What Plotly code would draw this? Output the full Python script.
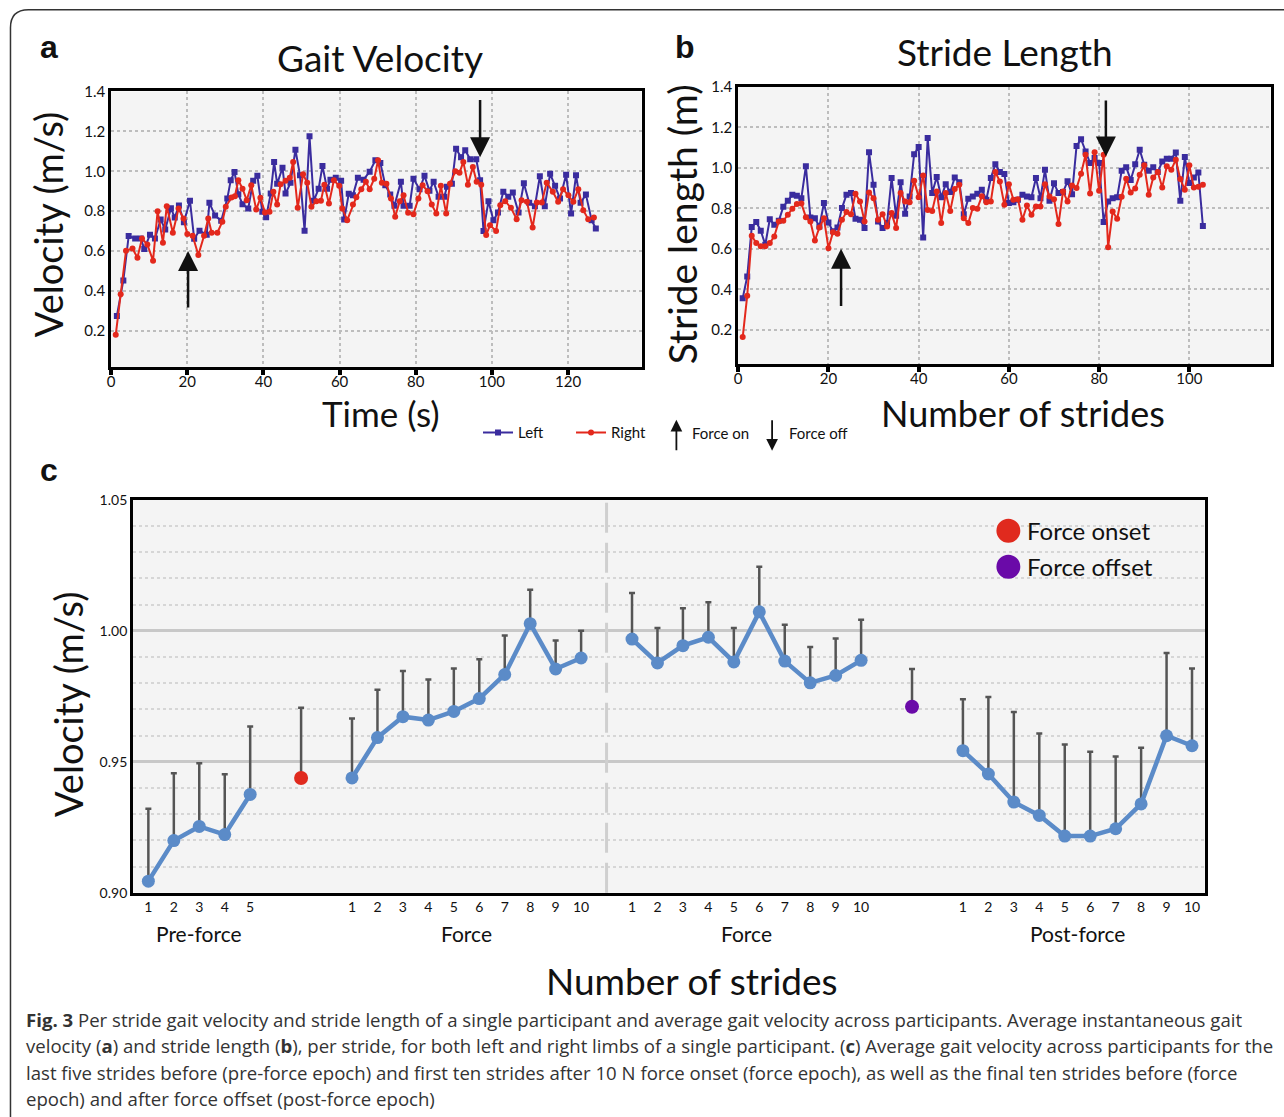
import plotly.graph_objects as go

# ---------------- DATA ----------------
# Panel a: gait velocity (m/s) vs time (s), single participant
gv_left_t = [1.5, 3.2, 4.6, 6.3, 7.8, 8.7, 10.2, 11.5, 13.0, 14.2,
             15.7, 16.7, 17.8, 19.1, 20.7, 21.8, 23.2, 25.1, 25.8, 27.3,
             28.9, 30.5, 31.4, 32.4, 33.4, 34.5, 36.0, 37.3, 38.4, 39.7,
             40.7, 41.9, 42.8, 43.6, 45.0, 45.8, 47.1, 48.4, 49.6, 50.8,
             52.1, 53.2, 54.5, 55.5, 56.7, 57.6, 59.0, 60.4, 61.2, 62.4,
             63.5, 64.8, 66.3, 67.9,
             69.4, 70.7, 72.0, 73.3, 74.4, 76.1, 76.8, 78.4, 79.4, 81.0,
             82.3, 83.6, 84.7, 86.0, 87.5, 88.2, 89.5, 90.6, 91.9, 93.0,
             94.3, 95.9, 96.9, 97.8, 99.1, 100.4, 101.6, 103.0, 104.3, 105.5,
             107.0, 108.4, 109.8, 111.3, 112.6, 113.9, 115.3, 116.6, 117.9, 119.5,
             120.8, 122.1, 123.3, 124.7, 126.2, 127.3]
gv_left_v = [0.275, 0.453, 0.675, 0.663, 0.663, 0.610, 0.682, 0.663, 0.758, 0.708,
             0.815, 0.768, 0.828, 0.745, 0.852, 0.662, 0.702, 0.682, 0.842, 0.778,
             0.752, 0.863, 0.955, 0.997, 0.885, 0.835, 0.813, 0.952, 0.977, 0.797,
             0.770, 0.888, 1.047, 0.937, 1.018, 0.888, 0.942, 1.108, 0.980, 0.702,
             1.175, 0.852, 0.913, 1.027, 0.913, 0.958, 0.967, 0.952, 0.758, 0.887,
             0.880, 0.968, 0.958, 0.998,
             1.055, 1.042, 0.930, 0.883, 0.827, 0.947, 0.827, 0.827, 0.963, 0.910,
             0.977, 0.903, 0.947, 0.872, 0.872, 0.922, 0.938, 1.113, 1.070, 1.105,
             1.060, 1.060, 0.955, 0.700, 0.850, 0.755, 0.793, 0.897, 0.872, 0.893,
             0.793, 0.940, 0.842, 0.825, 0.975, 0.825, 0.988, 0.927, 0.863, 0.983,
             0.788, 0.980, 0.842, 0.883, 0.755, 0.713]
gv_right_t = [1.2, 2.5, 3.9, 5.6, 6.9, 8.1, 9.5, 11.0, 12.2, 13.6,
              14.6, 16.2, 17.7, 19.0, 20.0, 21.4, 22.9, 24.4, 25.5, 26.4,
              27.9, 29.2, 30.1, 31.6, 32.5, 33.4, 34.5, 35.6, 36.8, 38.1,
              39.2, 40.4, 41.6, 42.6, 43.6, 44.5, 45.8, 46.9, 47.8, 49.0,
              50.4, 51.5, 52.6, 53.9, 55.1, 56.0, 57.2, 58.5, 59.9, 60.7,
              62.0, 63.5, 64.4, 65.7, 66.9, 67.9, 69.1, 70.1,
              71.1, 72.3, 73.5, 74.6, 75.8, 76.8, 78.0, 79.4, 80.7, 81.8,
              83.1, 84.2, 85.4, 86.6, 88.0, 89.0, 90.4, 91.5, 92.5, 93.7,
              95.0, 96.0, 97.2, 98.5, 99.5, 101.1, 102.2, 103.5, 105.0, 106.5,
              107.8, 109.2, 110.7, 111.8, 113.1, 114.4, 116.0, 117.4, 118.7, 120.1,
              121.4, 122.7, 124.0, 125.3, 126.8]
gv_right_v = [0.180, 0.383, 0.602, 0.613, 0.567, 0.663, 0.633, 0.552, 0.800, 0.642,
              0.825, 0.692, 0.813, 0.763, 0.685, 0.677, 0.580, 0.677, 0.763, 0.692,
              0.692, 0.747, 0.822, 0.868, 0.875, 0.955, 0.913, 0.855, 0.930, 0.808,
              0.867, 0.793, 0.797, 0.897, 0.833, 0.935, 0.952, 0.968, 1.047, 0.817,
              0.985, 0.942, 0.822, 0.850, 0.852, 0.933, 0.838, 0.955, 0.927, 0.813,
              0.755, 0.833, 0.870, 0.910, 0.947, 0.910, 0.963, 1.055,
              0.942, 0.938, 0.863, 0.772, 0.850, 0.880, 0.792, 0.785, 0.863, 0.930,
              0.900, 0.833, 0.788, 0.927, 0.788, 0.938, 1.000, 0.993, 1.047, 0.933,
              1.022, 0.947, 0.933, 0.680, 0.730, 0.700, 0.830, 0.850, 0.817, 0.760,
              0.855, 0.847, 0.718, 0.843, 0.843, 0.943, 0.897, 0.847, 0.910, 0.880,
              0.847, 0.910, 0.805, 0.760, 0.768]

# Panel b: stride length (m) per stride number
strides_b = list(range(1, 104))
sl_left = [0.356, 0.463, 0.707, 0.732, 0.689, 0.620, 0.746, 0.718, 0.738, 0.808,
           0.837, 0.867, 0.862, 0.850, 1.008, 0.755, 0.751, 0.710, 0.826, 0.730,
           0.686, 0.705, 0.801, 0.867, 0.875, 0.748, 0.743, 0.702, 1.077, 0.916,
           0.735, 0.702, 0.727, 0.949, 0.763, 0.929, 0.773, 0.858, 1.067, 1.102,
           0.656, 1.147, 0.875, 0.954, 0.854, 0.919, 0.880, 0.952, 0.929, 0.771,
           0.847, 0.858, 0.872, 0.892, 0.842, 0.949, 1.018, 0.979, 0.969, 0.826,
           0.830, 0.842, 0.867, 0.858, 0.854, 0.949, 0.850, 0.990, 0.837, 0.923,
           0.875, 0.880, 0.933, 0.869, 1.108, 1.141, 1.080, 1.023, 1.048, 1.023,
           0.732, 0.834, 0.850, 0.854, 0.985, 1.003, 0.940, 1.018, 1.089, 1.015,
           0.985, 1.002, 0.979, 1.031, 1.044, 1.044, 1.075, 0.837, 1.053, 0.925,
           0.952, 0.977, 0.713]
sl_right = [0.164, 0.368, 0.664, 0.628, 0.612, 0.612, 0.628, 0.661, 0.735, 0.738,
            0.768, 0.798, 0.821, 0.824, 0.756, 0.735, 0.641, 0.705, 0.751, 0.603,
            0.681, 0.674, 0.743, 0.781, 0.771, 0.872, 0.834, 0.735, 0.878, 0.850,
            0.743, 0.771, 0.710, 0.776, 0.702, 0.875, 0.834, 0.830, 0.936, 0.855,
            0.962, 0.792, 0.787, 0.883, 0.727, 0.875, 0.787, 0.895, 0.916, 0.751,
            0.727, 0.801, 0.798, 0.859, 0.830, 0.834, 0.979, 0.932, 0.817, 0.919,
            0.842, 0.845, 0.743, 0.814, 0.768, 0.809, 0.809, 0.919, 0.858, 0.845,
            0.722, 0.883, 0.834, 0.913, 0.900, 0.970, 1.064, 0.873, 1.077, 0.886,
            1.064, 0.608, 0.784, 0.748, 0.857, 0.946, 0.878, 0.898, 0.965, 1.012,
            0.867, 0.952, 0.979, 0.903, 1.007, 0.990, 1.040, 0.944, 0.892, 1.012,
            0.903, 0.906, 0.916]

# Force on / off events
force_on_a, force_off_a = 20.2, 96.9      # time (s)
force_on_b, force_off_b = 22.8, 81.5      # stride number

# Panel c: average gait velocity across participants (mean, upper error)
pre_labels = ["1", "2", "3", "4", "5"]
pre_mean = [0.9044, 0.9199, 0.9253, 0.9222, 0.9375]
pre_err = [0.0276, 0.0257, 0.0241, 0.0230, 0.0259]
onset_mean, onset_err = 0.9438, 0.0268
force_labels = ["1", "2", "3", "4", "5", "6", "7", "8", "9", "10"]
force_first_mean = [0.9438, 0.9592, 0.9672, 0.9659, 0.9692, 0.9741, 0.9833, 1.0027, 0.9854, 0.9896]
force_first_err = [0.0227, 0.0183, 0.0174, 0.0155, 0.0164, 0.0150, 0.0149, 0.0129, 0.0109, 0.0104]
force_last_mean = [0.9968, 0.9877, 0.9943, 0.9975, 0.9881, 1.0072, 0.9884, 0.9801, 0.9829, 0.9887]
force_last_err = [0.0176, 0.0133, 0.0143, 0.0134, 0.0129, 0.0172, 0.0139, 0.0137, 0.0141, 0.0155]
offset_mean, offset_err = 0.9710, 0.0144
post_labels = ["1", "2", "3", "4", "5", "6", "7", "8", "9", "10"]
post_mean = [0.9542, 0.9453, 0.9346, 0.9295, 0.9216, 0.9216, 0.9244, 0.9339, 0.9599, 0.9561]
post_err = [0.0196, 0.0294, 0.0344, 0.0313, 0.0350, 0.0322, 0.0276, 0.0214, 0.0316, 0.0295]
epoch_names = ["Pre-force", "Force", "Force", "Post-force"]

caption_lines = [
    "<b>Fig. 3</b> Per stride gait velocity and stride length of a single participant and average gait velocity across participants. Average instantaneous gait",
    "velocity (<b>a</b>) and stride length (<b>b</b>), per stride, for both left and right limbs of a single participant. (<b>c</b>) Average gait velocity across participants for the",
    "last five strides before (pre-force epoch) and first ten strides after 10 N force onset (force epoch), as well as the final ten strides before (force",
    "epoch) and after force offset (post-force epoch)",
]

# ---------------- LAYOUT HELPERS ----------------
W, H = 1284, 1117
def px(x):
    return (x - 2.5) / W
def py(y):
    return 1 - ((y - 10.2) / 0.984) / H

FONT = "Lato"
BLUE = "#3a2c9e"
RED = "#e3281c"
CBLUE = "#5b8bc8"
EGRAY = "#555555"
ONSET = "#e02a1e"
OFFSET = "#6a0aa8"

# x positions for panel c (grouped categories with gaps)
pre_x = [1, 2, 3, 4, 5]
onset_x = 7
force_first_x = list(range(9, 19))
sep_x = 19
force_last_x = list(range(20, 30))
offset_x = 31
post_x = list(range(33, 43))

fig = go.Figure()

# Panel a
fig.add_trace(go.Scatter(x=gv_left_t, y=gv_left_v, mode="lines+markers", name="Left",
                         line=dict(color=BLUE, width=2), marker=dict(symbol="square", size=6, color=BLUE),
                         xaxis="x", yaxis="y", legend="legend"))
fig.add_trace(go.Scatter(x=gv_right_t, y=gv_right_v, mode="lines+markers", name="Right",
                         line=dict(color=RED, width=2), marker=dict(symbol="circle", size=6, color=RED),
                         xaxis="x", yaxis="y", legend="legend"))
# Panel b
fig.add_trace(go.Scatter(x=strides_b, y=sl_left, mode="lines+markers", name="Left", showlegend=False,
                         line=dict(color=BLUE, width=2), marker=dict(symbol="square", size=6, color=BLUE),
                         xaxis="x2", yaxis="y2"))
fig.add_trace(go.Scatter(x=strides_b, y=sl_right, mode="lines+markers", name="Right", showlegend=False,
                         line=dict(color=RED, width=2), marker=dict(symbol="circle", size=6, color=RED),
                         xaxis="x2", yaxis="y2"))

# Panel c
def epoch_trace(xs, means, errs):
    return go.Scatter(x=xs, y=means, mode="lines+markers", showlegend=False,
                      line=dict(color=CBLUE, width=4.5), marker=dict(size=13, color=CBLUE),
                      error_y=dict(type="data", array=errs, arrayminus=[0] * len(errs), symmetric=False,
                                   color=EGRAY, thickness=2.5, width=3),
                      xaxis="x3", yaxis="y3")

fig.add_trace(epoch_trace(pre_x, pre_mean, pre_err))
fig.add_trace(epoch_trace(force_first_x, force_first_mean, force_first_err))
fig.add_trace(epoch_trace(force_last_x, force_last_mean, force_last_err))
fig.add_trace(epoch_trace(post_x, post_mean, post_err))
fig.add_trace(go.Scatter(x=[onset_x], y=[onset_mean], mode="markers", name="Force onset", showlegend=False,
                         marker=dict(size=14, color=ONSET),
                         error_y=dict(type="data", array=[onset_err], arrayminus=[0], symmetric=False,
                                      color=EGRAY, thickness=2.5, width=3),
                         xaxis="x3", yaxis="y3"))
fig.add_trace(go.Scatter(x=[offset_x], y=[offset_mean], mode="markers", name="Force offset", showlegend=False,
                         marker=dict(size=14, color=OFFSET),
                         error_y=dict(type="data", array=[offset_err], arrayminus=[0], symmetric=False,
                                      color=EGRAY, thickness=2.5, width=3),
                         xaxis="x3", yaxis="y3"))

frame = dict(showline=True, linecolor="black", linewidth=3, mirror=True, zeroline=False)
gridab = dict(showgrid=True, gridcolor="#bdbdbd", griddash="dot", gridwidth=2)
tickfont = dict(family=FONT, size=15, color="#111")

fig.update_layout(
    width=W, height=H, margin=dict(l=0, r=0, t=0, b=0),
    paper_bgcolor="white", plot_bgcolor="#f4f4f4",
    font=dict(family=FONT, color="#111"),
    xaxis=dict(domain=[px(110), px(642)], range=[0, 139.3], dtick=20, tick0=0, anchor="y",
               ticks="outside", ticklen=5, tickwidth=4, tickcolor="black", tickfont=tickfont,
               ticklabelstandoff=-6, **frame, **gridab),
    yaxis=dict(domain=[py(367), py(91.7)], range=[0.02, 1.40], tickvals=[0.2, 0.4, 0.6, 0.8, 1.0, 1.2, 1.4],
               tickformat=".1f", anchor="x", ticks="", tickfont=tickfont, **frame, **gridab),
    xaxis2=dict(domain=[px(739), px(1273)], range=[0, 118], dtick=20, tick0=0, anchor="y2",
                ticks="outside", ticklen=5, tickwidth=4, tickcolor="black", tickfont=tickfont,
                ticklabelstandoff=-6, **frame, **gridab),
    yaxis2=dict(domain=[py(364.4), py(87)], range=[0.03, 1.40], tickvals=[0.2, 0.4, 0.6, 0.8, 1.0, 1.2, 1.4],
                tickformat=".1f", anchor="x2", ticks="", tickfont=tickfont, **frame, **gridab),
    xaxis3=dict(domain=[px(132), px(1207)], range=[0.4, 42.5], anchor="y3",
                tickvals=pre_x + force_first_x + force_last_x + post_x,
                ticktext=pre_labels + force_labels + force_labels + post_labels,
                ticks="", showgrid=False, tickfont=dict(family=FONT, size=14, color="#111"), **frame),
    yaxis3=dict(domain=[py(893), py(500)], range=[0.9, 1.05], tickvals=[0.90, 0.95, 1.00, 1.05],
                tickformat=".2f", anchor="x3", ticks="", showgrid=True, gridcolor="#c8c8c8", gridwidth=2.5,
                minor=dict(dtick=0.01, tick0=0.9, showgrid=True, gridcolor="#d6d6d6", griddash="dot", gridwidth=1.5),
                tickfont=dict(family=FONT, size=14, color="#111"), **frame),
    legend=dict(orientation="h", x=px(478), y=py(433), xanchor="left", yanchor="middle",
                font=dict(family=FONT, size=15, color="#111"), bgcolor="rgba(0,0,0,0)", tracegroupgap=0,
                entrywidth=48, entrywidthmode="pixels"),
)

# separator between first and last force strides
fig.add_shape(type="line", xref="x3", yref="y3 domain", x0=sep_x, x1=sep_x, y0=0, y1=1,
              line=dict(color="#cfcfcf", width=3, dash="30px,10px"))

# outer rounded frame
fig.add_shape(type="path", xref="paper", yref="paper",
              path=f"M {px(9)},{py(1135)} L {px(9)},{py(28)} Q {px(9)},{py(10)} {px(27)},{py(10)} L {px(1300)},{py(10)}",
              line=dict(color="#333", width=1.5))

# legend dots of panel c (onset / offset)
for cy, col in [(531, ONSET), (567, OFFSET)]:
    fig.add_shape(type="circle", xref="paper", yref="paper", x0=px(998), x1=px(1022),
                  y0=py(cy + 12), y1=py(cy - 12), fillcolor=col, line=dict(width=0))

ann = []
def text(x, y, s, size, angle=0, anchor="center", bold=False, family=FONT, color="#111"):
    ann.append(dict(x=px(x), y=py(y), xref="paper", yref="paper", text=f"<b>{s}</b>" if bold else s,
                    showarrow=False, textangle=angle, xanchor=anchor, yanchor="middle",
                    font=dict(family=family, size=size, color=color)))

# panel letters
text(48, 47, "a", 32, bold=True, family="Liberation Sans")
text(686, 47, "b", 32, bold=True, family="Liberation Sans")
text(48, 470, "c", 32, bold=True, family="Liberation Sans")
# titles
text(380, 58, "Gait Velocity", 37)
text(1007, 52, "Stride Length", 37)
text(46, 225, "Velocity (m/s)", 38, angle=-90)
text(682, 224, "Stride length (m)", 39, angle=-90)
text(381, 413, "Time (s)", 35)
text(1025, 413, "Number of strides", 36)
text(66, 705, "Velocity (m/s)", 38, angle=-90)
text(693, 981, "Number of strides", 37)

text(1027, 531, "Force onset", 24, anchor="left")
text(1027, 567, "Force offset", 24, anchor="left")

# epoch labels in panel c
epoch_centers = [sum(pre_x) / len(pre_x), sum(force_first_x) / len(force_first_x),
                 sum(force_last_x) / len(force_last_x), sum(post_x) / len(post_x)]
for cx, name in zip(epoch_centers, epoch_names):
    ann.append(dict(x=cx, y=py(934), xref="x3", yref="paper", text=name, showarrow=False,
                    xanchor="center", yanchor="middle", font=dict(family=FONT, size=21, color="#111")))

# force on/off arrows in panels a and b
for xr, yr, xv, tip, tail in [("x", "y", force_on_a, 0.60, 0.31), ("x", "y", force_off_a, 1.07, 1.365),
                              ("x2", "y2", force_on_b, 0.60, 0.31), ("x2", "y2", force_off_b, 1.056, 1.34)]:
    ann.append(dict(x=xv, y=tip, ax=xv, ay=tail, xref=xr, yref=yr, axref=xr, ayref=yr, text="",
                    showarrow=True, arrowhead=2, arrowsize=1.6, arrowwidth=2.5, arrowcolor="#111"))

# legend arrows (Force on / Force off)
ann.append(dict(x=px(677), y=py(420), ax=0, ay=32, xref="paper", yref="paper", text="", showarrow=True,
                arrowhead=2, arrowsize=1.3, arrowwidth=1.8, arrowcolor="#111"))
text(691, 433, "Force on", 15, anchor="left")
ann.append(dict(x=px(773), y=py(451), ax=0, ay=-32, xref="paper", yref="paper", text="", showarrow=True,
                arrowhead=2, arrowsize=1.3, arrowwidth=1.8, arrowcolor="#111"))
text(788, 433, "Force off", 15, anchor="left")

# caption
for i, line in enumerate(caption_lines):
    text(23, 1020 + 26.3 * i, line, 18.6, anchor="left", family="Open Sans", color="#333")

fig.update_layout(annotations=ann)
fig.write_html(
    "out.html",
    config={"displayModeBar": False},
    post_script=("document.body.style.margin='0px';document.body.style.overflow='hidden';"
                 "var d=document.getElementsByClassName('plotly-graph-div')[0];"
                 "d.style.position='fixed';d.style.left='0px';d.style.top='0px';"),
)
